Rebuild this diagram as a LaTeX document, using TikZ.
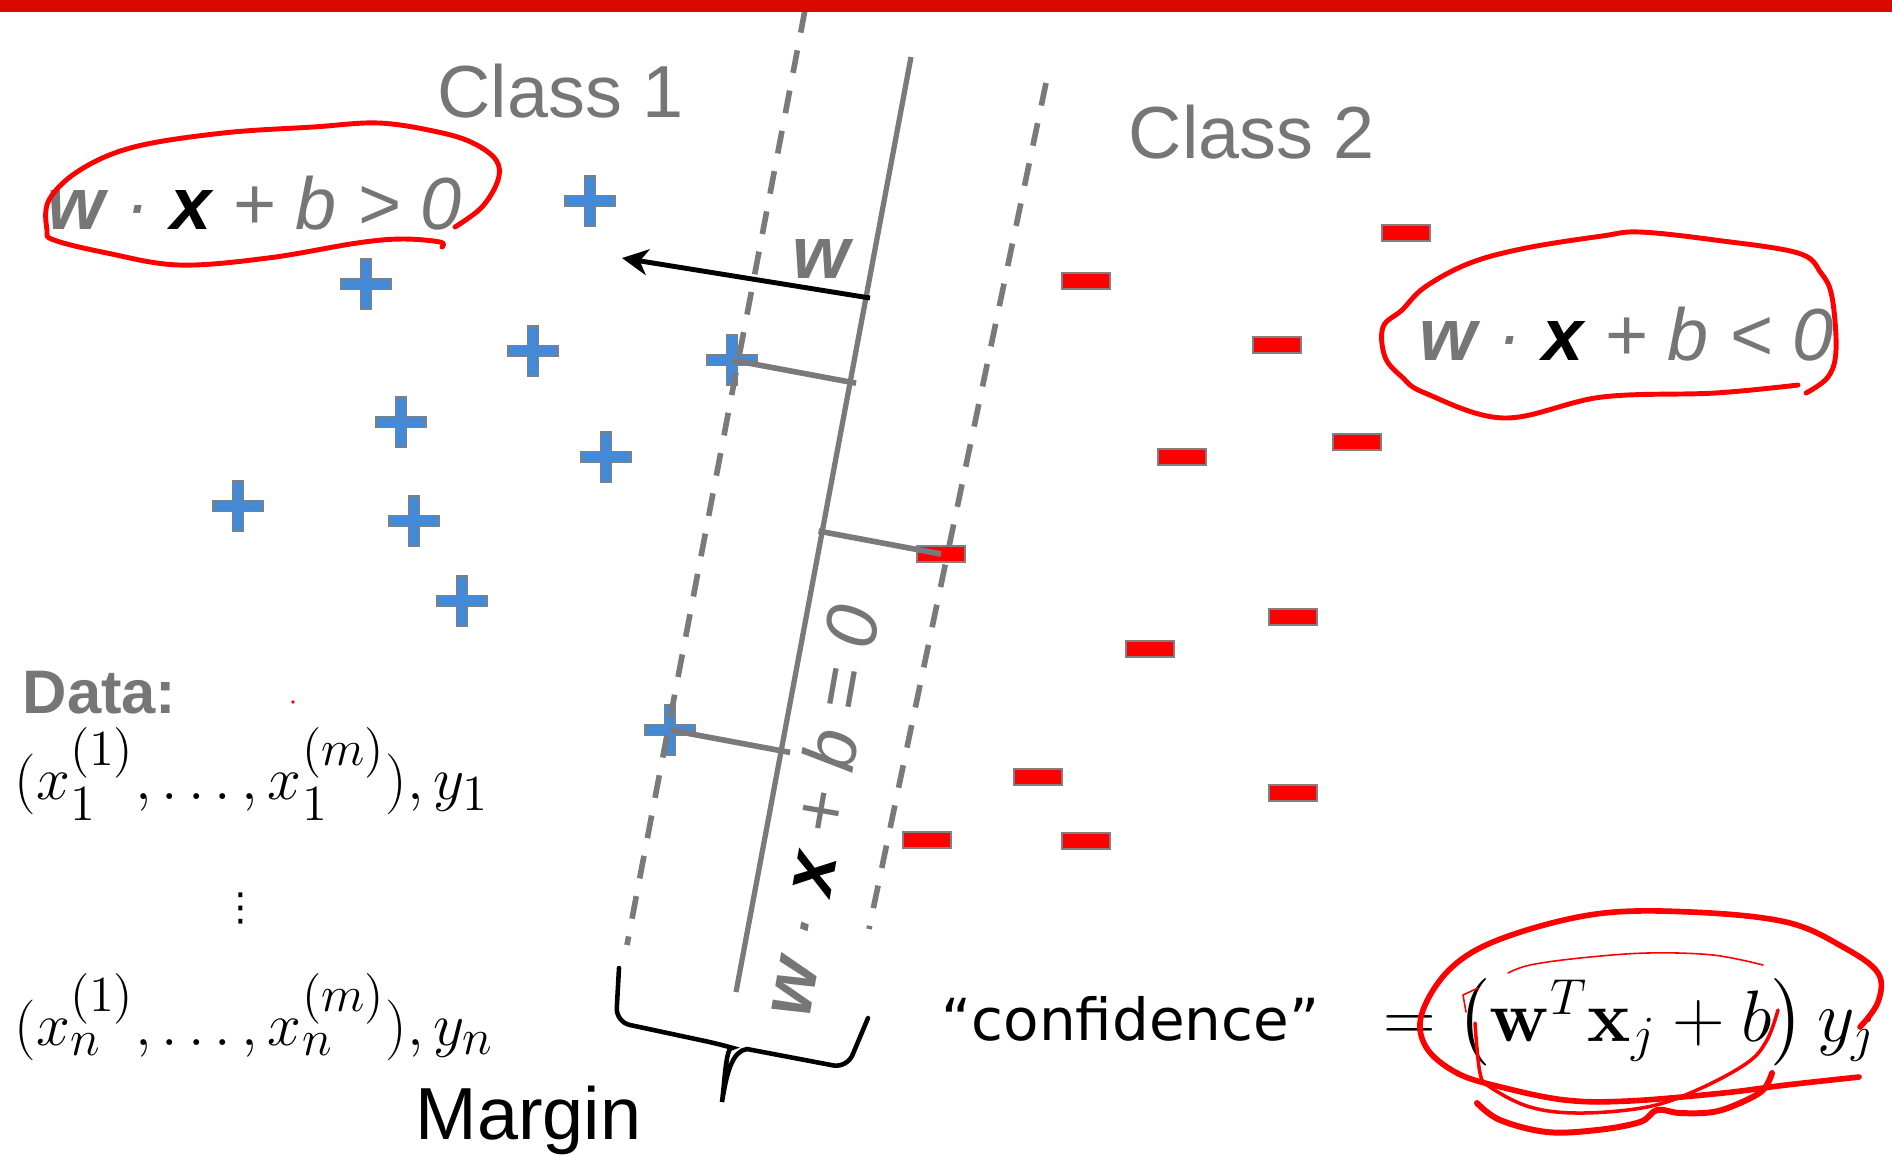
\documentclass[tikz,border=0pt]{standalone}
\usepackage{amsmath}
\usepackage[no-math]{fontspec}
\newfontfamily\arial{Liberation Sans}
\newfontfamily\dejavu{DejaVu Sans}
\usetikzlibrary{arrows.meta,calc}
\DeclareMathSizes{16.3}{16.3}{13.4}{10.5}

\definecolor{slidegray}{RGB}{118,118,118}
\definecolor{linegray}{RGB}{122,122,122}
\definecolor{plusblue}{RGB}{68,138,214}
\definecolor{markedge}{RGB}{128,128,128}
\definecolor{barred}{RGB}{216,10,0}
\definecolor{inkred}{RGB}{255,0,0}

\newcommand\eqfont{\arial\fontsize{21}{25}\selectfont\itshape}
\newcommand\wxb[1]{{\bfseries w} \textperiodcentered{} {\bfseries\color{black}x} + b #1 0}

\tikzset{
  hyperline/.style={draw=linegray, line width=1.5pt},
  marginline/.style={draw=linegray, line width=1.6pt, dash pattern=on 2.3mm off 1.8mm},
  distline/.style={draw=linegray, line width=1.6pt},
  warrow/.style={-{Stealth[length=2.6mm,width=2.6mm,inset=0.8mm]}, line width=1.4pt, draw=black},
  bracepath/.style={draw=black, line width=1.3pt, line cap=round},
  minusbox/.style={rectangle, draw=markedge, fill=red, line width=0.6pt, minimum width=4.8mm, minimum height=1.6mm, inner sep=0pt},
  plusmark/.pic={\filldraw[fill=plusblue, draw=markedge, line width=0.5pt]
    (-25,-5.5) -- (-5.5,-5.5) -- (-5.5,-25) -- (5.5,-25) -- (5.5,-5.5) -- (25,-5.5)
    -- (25,5.5) -- (5.5,5.5) -- (5.5,25) -- (-5.5,25) -- (-5.5,5.5) -- (-25,5.5) -- cycle;},
  ink/.style={draw=inkred, line width=1.4pt, line cap=round, line join=round},
  thinink/.style={draw=inkred, line width=0.45pt, line cap=round},
  classlabel/.style={font=\arial\fontsize{21}{25}\selectfont, text=slidegray, inner sep=0pt, anchor=base west},
  eqlabel/.style={font=\eqfont, text=slidegray, inner sep=0pt, anchor=base west},
  datalabel/.style={font=\arial\bfseries\fontsize{17.5}{21}\selectfont, text=slidegray, inner sep=0pt, anchor=base west},
  mathlabel/.style={font=\fontsize{16.3}{19}\selectfont, inner sep=0pt, anchor=base west},
  marginlabel/.style={font=\arial\fontsize{21}{25}\selectfont, inner sep=0pt, anchor=base west},
  conflabel/.style={font=\dejavu\fontsize{16.5}{20}\selectfont, inner sep=0pt, anchor=base west},
  confmath/.style={font=\fontsize{20}{24}\selectfont, inner sep=0pt, anchor=base west},
}

\begin{document}
\begin{tikzpicture}[x=0.1mm,y=-0.1mm]
  \useasboundingbox (0,0) rectangle (1892,1155);
  \clip (0,0) rectangle (1892,1155);
  \fill[white] (0,0) rectangle (1892,1155);

  % class 1 points
  \foreach \px/\py [count=\i] in {590/201, 366/284, 533/351, 732/360, 401/422,
      606/457, 238/506, 414/521, 462/601, 670/730}
    {\pic at (\px,\py) {plusmark}; \coordinate (p\i) at (\px,\py);}
  % class 2 points
  \foreach \mx/\my [count=\i] in {1406/233, 1086/281, 1277/345, 1182/457, 1357/442,
      941/554, 1293/617, 1150/649, 1038/777, 1293/793, 927/840, 1086/841}
    \node[minusbox] (m\i) at (\mx,\my) {};

  % boundary and margins
  \coordinate (hTop) at (911,57);   \coordinate (hBot) at (736,992);
  \coordinate (lTop) at (805,10);   \coordinate (lBot) at (627,945);
  \coordinate (rTop) at (1046,83);  \coordinate (rBot) at (869,929);
  \draw[marginline] (lTop) -- (lBot);
  \draw[marginline] (rTop) -- (rBot);
  \draw[hyperline] (hTop) -- (hBot);

  \coordinate (f1) at ($(hTop)!(p4)!(hBot)$);
  \coordinate (f2) at ($(hTop)!(m6.center)!(hBot)$);
  \coordinate (f3) at ($(hTop)!(p10)!(hBot)$);
  \draw[distline] (p4) -- ($(p4)!1.05!(f1)$);
  \draw[distline] ($(m6.center)!1.03!(f2)$) -- (m6.center);
  \draw[distline] (p10) -- ($(p10)!1.08!(f3)$);

  \coordinate (wtail) at (870,298); \coordinate (wtip) at (622,258);
  \draw[warrow] (wtail) -- (wtip);
  \node[eqlabel] (wlab) at (792,278) {\bfseries w};

  \fill[barred] (0,0) rectangle (1892,12);

  \node[classlabel] (cls1) at (437,117) {Class 1};
  \node[classlabel] (cls2) at (1128,158) {Class 2};
  \node[eqlabel] (pos) at (47,229) {\wxb{>}};
  \node[eqlabel] (neg) at (1419,360) {\wxb{<}};
  \node[eqlabel, rotate=80, anchor=base] (bound) at (845,815) {\wxb{=}};

  \node[datalabel] (data) at (22,713) {Data:};
  \node[mathlabel] (row1) at (14,799) {$(x_1^{(1)},\ldots,x_1^{(m)}),y_1$};
  \node[font=\dejavu\fontsize{11}{13}\selectfont, inner sep=0pt] (vdots) at (241,908) {⋮};
  \node[mathlabel] (rown) at (14,1045) {$(x_n^{(1)},\ldots,x_n^{(m)}),y_n$};

  % margin brace
  \draw[bracepath] (619,968) [rounded corners=1.4mm] -- (616,1022) -- (719,1044) [sharp corners]
    .. controls (726,1046) and (725,1078) .. (722,1102)
    .. controls (727,1070) and (733,1051) .. (747,1049) [rounded corners=1.4mm]
    -- (847,1068) -- (868,1018);
  \node[marginlabel] (margin) at (415,1139) {Margin};

  \node[conflabel] (conf) at (941,1040) {“confidence”};
  \node[confmath] (confeq) at (1383,1041) {$=\left(\mathbf{w}^T\mathbf{x}_j+b\right)y_j$};

  % hand-drawn marks
  \draw[ink] plot[smooth, tension=0.6] coordinates {(455,227) (482,207) (498,180) (496,160)
    (473,143) (438,132) (379,123) (313,127) (223,133) (134,147) (80,170) (49,200) (47,230)
    (54,240) (107,253) (179,265) (268,258) (357,243) (402,239) (440,242) (442,247)};
  \draw[ink] plot[smooth, tension=0.6] coordinates {(1806,393) (1828,377) (1836,350) (1832,297)
    (1821,273) (1798,253) (1715,240) (1640,232) (1602,236) (1526,248) (1470,263) (1425,287)
    (1402,310) (1383,327) (1385,357) (1402,377) (1425,393) (1504,418) (1602,397) (1715,393)
    (1798,385)};
  \draw[ink, line width=1.6pt] plot[smooth, tension=0.6] coordinates {(1860,1027) (1878,1002) (1878,973)
    (1843,947) (1786,922) (1691,912) (1596,914) (1503,938) (1451,968) (1422,1013) (1426,1047)
    (1457,1073) (1501,1087) (1565,1100) (1628,1101) (1723,1093) (1786,1085) (1859,1077)};
  \draw[ink, line width=1.7pt] plot[smooth, tension=0.6] coordinates {(1477,1103) (1500,1120) (1547,1132)
    (1597,1130) (1640,1122) (1657,1110) (1680,1113) (1713,1112) (1740,1103) (1763,1090)
    (1772,1073)};
  \draw[ink, line width=1pt] plot[smooth, tension=0.6] coordinates {(1475,1023) (1480,1073)
    (1490,1087) (1530,1107) (1580,1113) (1647,1107) (1697,1090) (1747,1063) (1767,1040)
    (1778,1010)};
  \draw[thinink] plot[smooth, tension=0.6] coordinates {(1508,973) (1530,965) (1580,958)
    (1647,953) (1713,955) (1763,965)};
  \draw[thinink] (1466,1012) -- (1463,995) -- (1478,988);
  \fill[inkred] (293,702) circle[radius=0.18mm];
\end{tikzpicture}
\end{document}
